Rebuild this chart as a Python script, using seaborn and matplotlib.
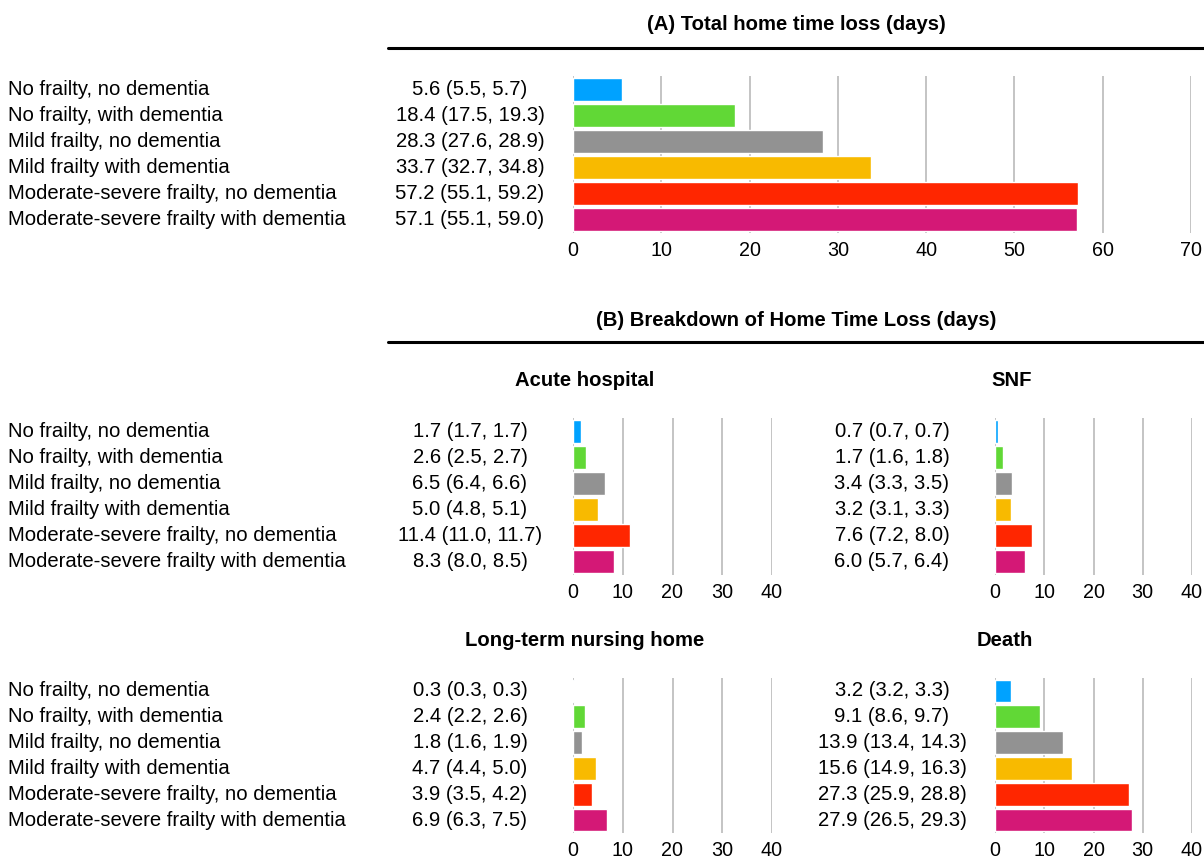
import seaborn as sns
import matplotlib.pyplot as plt
import pandas as pd
from matplotlib.lines import Line2D
from matplotlib.transforms import blended_transform_factory

# dados
grupos = ['No frailty, no dementia', 'No frailty, with dementia', 'Mild frailty, no dementia',
          'Mild frailty with dementia', 'Moderate-severe frailty, no dementia',
          'Moderate-severe frailty with dementia']
cores = ['#00A2FF', '#61D836', '#929292', '#F8BA00', '#FF2600', '#D41876']

total = [5.6, 18.4, 28.3, 33.7, 57.2, 57.1]
total_ic = ['(5.5, 5.7)', '(17.5, 19.3)', '(27.6, 28.9)', '(32.7, 34.8)', '(55.1, 59.2)', '(55.1, 59.0)']

hospital = [1.7, 2.6, 6.5, 5.0, 11.4, 8.3]
hospital_ic = ['(1.7, 1.7)', '(2.5, 2.7)', '(6.4, 6.6)', '(4.8, 5.1)', '(11.0, 11.7)', '(8.0, 8.5)']

snf = [0.7, 1.7, 3.4, 3.2, 7.6, 6.0]
snf_ic = ['(0.7, 0.7)', '(1.6, 1.8)', '(3.3, 3.5)', '(3.1, 3.3)', '(7.2, 8.0)', '(5.7, 6.4)']

nursing = [0.3, 2.4, 1.8, 4.7, 3.9, 6.9]
nursing_ic = ['(0.3, 0.3)', '(2.2, 2.6)', '(1.6, 1.9)', '(4.4, 5.0)', '(3.5, 4.2)', '(6.3, 7.5)']

death = [3.2, 9.1, 13.9, 15.6, 27.3, 27.9]
death_ic = ['(3.2, 3.3)', '(8.6, 9.7)', '(13.4, 14.3)', '(14.9, 16.3)', '(25.9, 28.8)', '(26.5, 29.3)']

W, H = 1204, 858
sns.set_style('white')
plt.rcParams['font.family'] = ['Liberation Sans', 'DejaVu Sans']
plt.rcParams['text.color'] = 'black'
plt.rcParams['xtick.color'] = 'black'
fig = plt.figure(figsize=(W / 100, H / 100), dpi=100)
FS = 14.6


def eixo(x0, x1, y0, y1):
    # pixels (origem no topo) -> coordenadas da figura
    return fig.add_axes([x0 / W, 1 - y1 / H, (x1 - x0) / W, (y1 - y0) / H])


def painel(ax, valores, ics, xmax, xtexto, rotulos, titulo=None, xtitulo=None, ytitulo=None):
    df = pd.DataFrame({'grupo': grupos, 'valor': valores})
    sns.barplot(data=df, x='valor', y='grupo', hue='grupo', palette=cores, orient='h',
                legend=False, width=0.88, saturation=1, ax=ax)
    ax.set_xlim(0, xmax)
    ax.set_ylim(5.5, -0.5)
    ax.set_xticks(range(0, xmax + 1, 10))
    ax.set_yticks([])
    ax.set(xlabel='', ylabel='')
    ax.grid(axis='x', color='#c4c4c4', linewidth=1.4)
    ax.set_axisbelow(True)
    sns.despine(ax=ax, left=True, bottom=True)
    ax.tick_params(axis='x', length=0, pad=6, labelsize=FS - 0.4, labelcolor='black')
    tr = blended_transform_factory(fig.transFigure, ax.transData)
    for i, (v, ic) in enumerate(zip(valores, ics)):
        ax.text(xtexto / W, i, f'{v:.1f} {ic}', transform=tr, ha='center', va='center', fontsize=FS)
        if rotulos:
            ax.text(8 / W, i, grupos[i], transform=tr, ha='left', va='center', fontsize=FS)
    if titulo:
        fig.text(xtitulo / W, 1 - ytitulo / H, titulo, ha='center', va='center',
                 fontsize=FS, fontweight='bold')


def cabecalho(texto, y_txt, y_linha):
    fig.text(796 / W, 1 - y_txt / H, texto, ha='center', va='center', fontsize=FS, fontweight='bold')
    fig.add_artist(Line2D([388 / W, 1], [1 - y_linha / H] * 2, color='black', linewidth=2.2,
                          transform=fig.transFigure))


cabecalho('(A) Total home time loss (days)', 25, 48)
cabecalho('(B) Breakdown of Home Time Loss (days)', 320, 342)

axA = eixo(573, 573 + 70 * 8.83, 76, 233)
painel(axA, total, total_ic, 70, 470, True)

ax1 = eixo(573, 772, 418, 575)
painel(ax1, hospital, hospital_ic, 40, 470, True, 'Acute hospital', 585, 380)
ax2 = eixo(995, 1192, 418, 575)
painel(ax2, snf, snf_ic, 40, 892, False, 'SNF', 1012, 380)
ax3 = eixo(573, 772, 678, 833)
painel(ax3, nursing, nursing_ic, 40, 470, True, 'Long-term nursing home', 585, 640)
ax4 = eixo(995, 1192, 678, 833)
painel(ax4, death, death_ic, 40, 892, False, 'Death', 1005, 640)

plt.savefig('out.png', dpi=100)
